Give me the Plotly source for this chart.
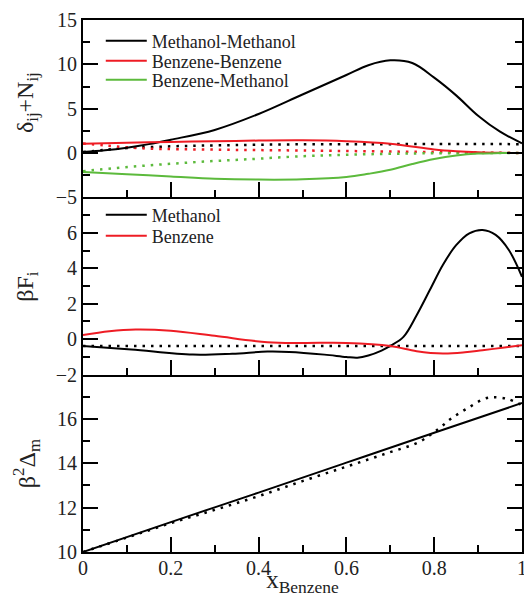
import plotly.graph_objects as go
from plotly.subplots import make_subplots

# ---------------- data ----------------
# Top panel: delta_ij + N_ij
x_mm = [0, 0.05, 0.1, 0.15, 0.2, 0.3, 0.4, 0.5, 0.6, 0.65, 0.7, 0.75, 0.8, 0.85, 0.9, 0.95, 1.0]
y_mm = [0.1, 0.3, 0.6, 1.0, 1.5, 2.6, 4.4, 6.6, 8.8, 9.9, 10.45, 10.15, 8.5, 6.5, 4.2, 2.4, 1.1]
x_bb = [0, 0.1, 0.2, 0.3, 0.4, 0.5, 0.6, 0.7, 0.8, 0.85, 0.9, 0.95, 1.0]
y_bb = [1.05, 1.15, 1.25, 1.33, 1.4, 1.43, 1.33, 1.05, 0.4, 0.2, 0.08, 0.02, 0.0]
x_bm = [0, 0.1, 0.2, 0.3, 0.4, 0.5, 0.6, 0.65, 0.7, 0.75, 0.8, 0.85, 0.9, 0.95, 1.0]
y_bm = [-2.14, -2.4, -2.65, -2.9, -3.0, -2.97, -2.71, -2.35, -1.9, -1.25, -0.68, -0.28, -0.06, -0.01, 0.0]

x_mm_ref = [0, 0.05, 0.1, 0.2, 0.3, 0.5, 0.7, 1.0]
y_mm_ref = [0.1, 0.35, 0.55, 0.75, 0.86, 0.98, 1.0, 1.0]
x_bb_ref = [0, 0.05, 0.1, 0.15, 0.3, 0.5, 0.8, 0.95, 1.0]
y_bb_ref = [1.06, 0.85, 0.65, 0.5, 0.38, 0.28, 0.11, 0.03, 0.0]
x_bm_ref = [0, 0.075, 0.15, 0.225, 0.3, 0.375, 0.5, 0.6, 0.7, 0.8, 1.0]
y_bm_ref = [-2.05, -1.69, -1.39, -1.13, -0.9, -0.71, -0.36, -0.2, -0.09, -0.03, 0.0]

# Middle panel: beta F_i
x_fm = [0, 0.11, 0.25, 0.34, 0.42, 0.47, 0.55, 0.6, 0.625, 0.65, 0.68, 0.7, 0.73, 0.76,
        0.79, 0.82, 0.85, 0.88, 0.91, 0.94, 0.97, 1.0]
y_fm = [-0.38, -0.58, -0.87, -0.82, -0.7, -0.72, -0.87, -1.0, -1.04, -0.92, -0.64, -0.38,
        0.13, 1.35, 2.77, 4.2, 5.3, 5.97, 6.16, 5.88, 5.03, 3.52]
x_fb = [0, 0.06, 0.12, 0.2, 0.3, 0.42, 0.5, 0.6, 0.7, 0.76, 0.82, 0.87, 0.91, 0.96, 1.0]
y_fb = [0.23, 0.45, 0.55, 0.48, 0.19, -0.17, -0.21, -0.21, -0.38, -0.68, -0.81, -0.74, -0.62, -0.47, -0.34]
x_f_ref = [0, 1.0]
y_f_ref = [-0.38, -0.38]

# Bottom panel: beta^2 Delta_m
x_d = [0, 0.2, 0.4, 0.6, 0.8, 1.0]
y_d = [10.0, 11.35, 12.68, 14.03, 15.38, 16.72]
x_d_ref = [0, 0.1, 0.2, 0.3, 0.4, 0.5, 0.6, 0.69, 0.765, 0.81, 0.84, 0.878, 0.915, 0.935, 0.968, 1.0]
y_d_ref = [10.0, 10.65, 11.3, 11.9, 12.52, 13.2, 13.85, 14.44, 14.96, 15.56, 16.04, 16.51,
           16.92, 16.98, 16.9, 16.62]

# tick labels
x_ticks = [0, 0.2, 0.4, 0.6, 0.8, 1.0]
x_ticktext = ["0", "0.2", "0.4", "0.6", "0.8", "1"]
top_ticks = [-5, 0, 5, 10, 15]
mid_ticks = [-2, 0, 2, 4, 6]
bot_ticks = [10, 12, 14, 16]
y_titles = ["δ<sub>ij</sub>+N<sub>ij</sub>", "βF<sub>i</sub>", "β<sup>2</sup>Δ<sub>m</sub>"]

BLACK = "#000000"
RED = "#ee1c24"
GREEN = "#5cba3c"
DOT = "2.5px,6px"
FONT = "Liberation Serif"
TXT = "#222222"

fig = make_subplots(rows=3, cols=1, shared_xaxes=True, vertical_spacing=0)

def add(x, y, color, row, name=None, dotted=False, legend="legend"):
    fig.add_trace(go.Scatter(
        x=x, y=y, mode="lines", name=name if name else "",
        showlegend=name is not None, legend=legend,
        line=dict(color=color, width=2 if not dotted else 2.5,
                  dash=DOT if dotted else "solid", shape="spline", smoothing=1.0),
        hoverinfo="skip"), row=row, col=1)

add(x_mm_ref, y_mm_ref, BLACK, 1, dotted=True)
add(x_bb_ref, y_bb_ref, RED, 1, dotted=True)
add(x_bm_ref, y_bm_ref, GREEN, 1, dotted=True)
add(x_mm, y_mm, BLACK, 1, "Methanol-Methanol", legend="legend")
add(x_bb, y_bb, RED, 1, "Benzene-Benzene", legend="legend2")
add(x_bm, y_bm, GREEN, 1, "Benzene-Methanol", legend="legend3")

add(x_f_ref, y_f_ref, BLACK, 2, dotted=True)
add(x_fm, y_fm, BLACK, 2, "Methanol", legend="legend4")
add(x_fb, y_fb, RED, 2, "Benzene", legend="legend5")

add(x_d_ref, y_d_ref, BLACK, 3, dotted=True)
add(x_d, y_d, BLACK, 3)

axis_common = dict(showline=True, linewidth=2, linecolor="black", ticks="inside",
                   ticklen=15, tickwidth=1.5, tickcolor="black", showgrid=False,
                   zeroline=False, tickfont=dict(family=FONT, size=20, color=TXT))
minor_x = dict(ticklen=7, tickwidth=1.5, tickcolor="black", tick0=0, dtick=0.1, ticks="inside")

for r in (1, 2, 3):
    fig.update_xaxes(range=[0, 1], mirror=(r == 1), tickvals=x_ticks, ticktext=x_ticktext,
                     minor=minor_x, row=r, col=1, **axis_common)
fig.update_xaxes(showticklabels=True, ticklabeloverflow="allow", ticklabelstandoff=-3,
                 row=3, col=1,
                 title=dict(text="x<sub>Benzene</sub>", font=dict(family=FONT, size=25, color=TXT),
                            standoff=5))

def minor_y(t0, dt):
    return dict(ticklen=7, tickwidth=1.5, tickcolor="black", tick0=t0, dtick=dt, ticks="inside")

fig.update_yaxes(range=[-5, 15], tickvals=top_ticks, mirror="ticks", minor=minor_y(0, 2.5),
                 row=1, col=1, **axis_common)
fig.update_yaxes(range=[-2, 8], tickvals=mid_ticks, mirror="ticks", minor=minor_y(0, 1),
                 row=2, col=1, **axis_common)
fig.update_yaxes(range=[10, 18], tickvals=bot_ticks, mirror="ticks", minor=minor_y(10, 1),
                 row=3, col=1, **axis_common)

# y-axis titles as rotated annotations centred on each panel
for i, (txt, yc) in enumerate(zip(y_titles, [5 / 6, 1 / 2, 1 / 6])):
    fig.add_annotation(text=txt, xref="paper", yref="paper", x=-0.128, y=yc + (0.012 if i == 0 else 0.0),
                       xanchor="center", yanchor="middle", textangle=-90, showarrow=False,
                       font=dict(family=FONT, size=24, color=TXT))

# plot area spans page pixels 20..552 vertically (the page itself adds an 8 px offset)
def leg(ypix):
    return dict(x=0.0405, y=(552 - ypix) / 532, xanchor="left", yanchor="middle",
                font=dict(family=FONT, size=18, color=TXT), bgcolor="rgba(0,0,0,0)",
                itemwidth=41, tracegroupgap=0)

fig.update_layout(
    width=516, height=589,
    margin=dict(l=75, r=2, t=12, b=45, autoexpand=False),
    paper_bgcolor="white", plot_bgcolor="white",
    legend=leg(41), legend2=leg(61), legend3=leg(80),
    legend4=leg(215), legend5=leg(236),
    font=dict(family=FONT),
)

fig.write_html("out.html")
